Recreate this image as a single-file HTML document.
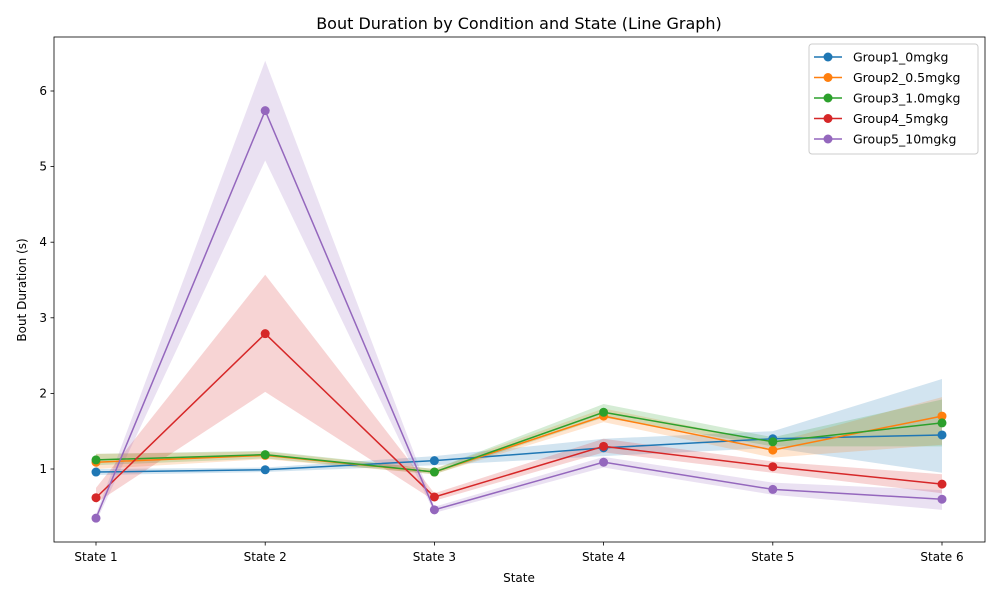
<!DOCTYPE html>
<html><head><meta charset="utf-8"><style>
body{margin:0;background:#fff;font-family:"Liberation Sans","DejaVu Sans",sans-serif;}
svg text{font-family:"DejaVu Sans","Liberation Sans",sans-serif;}
</style></head><body>
<svg id="chart" width="1000" height="600" xmlns="http://www.w3.org/2000/svg"></svg>
<script>
const categories=["State 1","State 2","State 3","State 4","State 5","State 6"];
const seriesNames=["Group1_0mgkg","Group2_0.5mgkg","Group3_1.0mgkg","Group4_5mgkg","Group5_10mgkg"];
const colors=["#1f77b4","#ff7f0e","#2ca02c","#d62728","#9467bd"];
const g1=[0.96,0.99,1.11,1.28,1.40,1.45];
const g2=[1.09,1.18,0.96,1.70,1.25,1.70];
const g3=[1.12,1.19,0.96,1.75,1.36,1.61];
const g4=[0.62,2.79,0.63,1.30,1.03,0.80];
const g5=[0.35,5.74,0.46,1.09,0.73,0.60];
const g1lo=[0.92,0.96,1.05,1.17,1.28,0.95], g1hi=[1.00,1.02,1.17,1.40,1.50,2.19];
const g2lo=[1.00,1.13,0.93,1.62,1.15,1.32], g2hi=[1.20,1.23,1.00,1.80,1.35,1.95];
const g3lo=[1.05,1.14,0.93,1.68,1.30,1.30], g3hi=[1.20,1.24,1.00,1.86,1.42,1.92];
const g4lo=[0.55,2.02,0.58,1.22,0.95,0.68], g4hi=[0.75,3.57,0.68,1.40,1.10,0.93];
const g5lo=[0.30,5.08,0.42,1.02,0.66,0.46], g5hi=[0.40,6.40,0.50,1.16,0.82,0.72];
const yTicks=[1,2,3,4,5,6];
const series=[g1,g2,g3,g4,g5], los=[g1lo,g2lo,g3lo,g4lo,g5lo], his=[g1hi,g2hi,g3hi,g4hi,g5hi];
const L=54,R=985,T=37,B=542;
const x=i=>96+i*(942-96)/(categories.length-1);
const y=v=>544.6-v*75.6;
const svg=document.getElementById('chart');
const NS="http://www.w3.org/2000/svg";
function mk(tag,attrs,parent){const e=document.createElementNS(NS,tag);for(const k in attrs)e.setAttribute(k,attrs[k]);(parent||svg).appendChild(e);return e;}
let t=mk('text',{x:519,y:29,'text-anchor':'middle','font-size':16,fill:'#000'});t.textContent="Bout Duration by Condition and State (Line Graph)";


series.forEach((s,k)=>{
  let d=s.map((_,i)=>(i?'L':'M')+x(i)+','+y(his[k][i])).join('')+los[k].map((v,i)=>i).reverse().map(i=>'L'+x(i)+','+y(los[k][i])).join('')+'Z';
  const p=mk('path',{d:d,fill:colors[k],'fill-opacity':0.2,stroke:'none'});
  
  
});
series.forEach((s,k)=>{
  const g=mk('g',{});
  
  
  mk('polyline',{points:s.map((v,i)=>x(i)+','+y(v)).join(' '),fill:'none',stroke:colors[k],'stroke-width':1.5},g);
  s.forEach((v,i)=>{const c=mk('circle',{cx:x(i),cy:y(v),r:4.5,fill:colors[k]},g);
    
    });
});
const fr=mk('rect',{x:L,y:T,width:R-L,height:B-T,fill:'none',stroke:'#000','stroke-width':0.8});


categories.forEach((c,i)=>{mk('line',{x1:x(i),x2:x(i),y1:B,y2:B+3.5,stroke:'#000','stroke-width':0.8});
  const tx=mk('text',{x:x(i),y:B+19,'text-anchor':'middle','font-size':12});tx.textContent=c;
  
  });
yTicks.forEach(v=>{mk('line',{x1:L-3.5,x2:L,y1:y(v),y2:y(v),stroke:'#000','stroke-width':0.8});
  const tx=mk('text',{x:L-7,y:y(v)+4,'text-anchor':'end','font-size':12});tx.textContent=v;
  
  });
t=mk('text',{x:519,y:582,'text-anchor':'middle','font-size':12});t.textContent="State";


t=mk('text',{x:0,y:0,'text-anchor':'middle','font-size':12,transform:'translate(26,290) rotate(-90)'});t.textContent="Bout Duration (s)";


const lg=mk('g',{});


mk('rect',{x:809,y:44,width:169,height:110,rx:3,fill:'#fff','fill-opacity':0.8,stroke:'#ccc'},lg);
seriesNames.forEach((n,k)=>{const yy=57+k*20.5;
  const e=mk('g',{},lg);
  
  
  mk('line',{x1:814,x2:842,y1:yy,y2:yy,stroke:colors[k],'stroke-width':1.5},e);
  mk('circle',{cx:828,cy:yy,r:4.5,fill:colors[k]},e);
  const tx=mk('text',{x:853,y:yy+4.5,'font-size':12.5},e);tx.textContent=n;});
</script>
</body></html>
